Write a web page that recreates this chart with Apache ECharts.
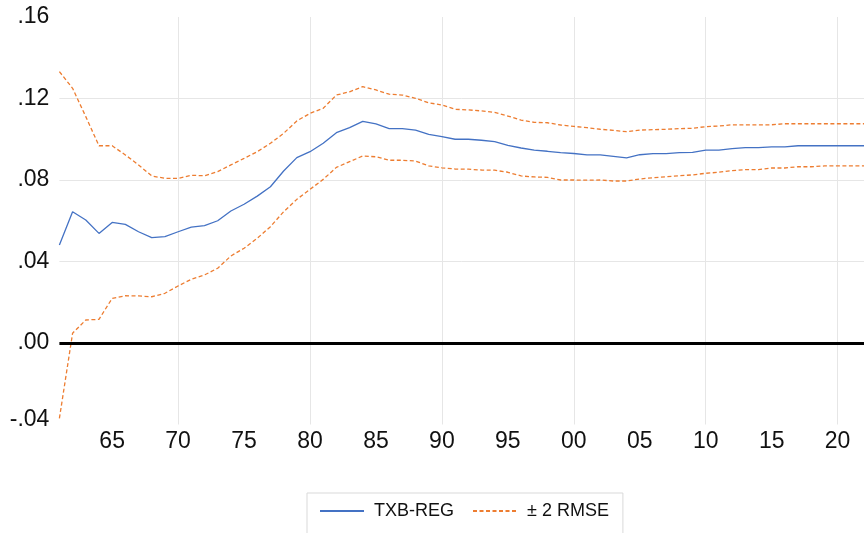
<!DOCTYPE html>
<html>
<head>
<meta charset="utf-8">
<script src="https://cdn.jsdelivr.net/npm/echarts@6/dist/echarts.min.js"></script>
<style>
html,body{margin:0;padding:0;background:#fff;}
#chart{width:864px;height:533px;}
</style>
</head>
<body>
<div id="chart"></div>
<script>
const years = [1961,1962,1963,1964,1965,1966,1967,1968,1969,1970,
1971,1972,1973,1974,1975,1976,1977,1978,1979,1980,
1981,1982,1983,1984,1985,1986,1987,1988,1989,1990,
1991,1992,1993,1994,1995,1996,1997,1998,1999,2000,
2001,2002,2003,2004,2005,2006,2007,2008,2009,2010,
2011,2012,2013,2014,2015,2016,2017,2018,2019,2020,2021,2022];

const txbReg = [0.0481,0.0644,0.0604,0.0538,0.0592,0.0582,0.0546,0.0517,0.0522,0.0546,
0.0569,0.0576,0.0600,0.0648,0.0681,0.0721,0.0767,0.0844,0.0910,0.0939,
0.0980,0.1032,0.1057,0.1088,0.1075,0.1052,0.1052,0.1045,0.1024,0.1013,
0.1000,0.1000,0.0995,0.0988,0.0970,0.0957,0.0947,0.0941,0.0934,0.0930,
0.0923,0.0923,0.0916,0.0909,0.0924,0.0929,0.0929,0.0934,0.0936,0.0947,
0.0947,0.0954,0.0959,0.0959,0.0963,0.0963,0.0968,0.0968,0.0968,0.0968,0.0968,0.0968];

const upperBand = [0.1332,0.1250,0.1111,0.0968,0.0968,0.0923,0.0874,0.0820,0.0808,0.0808,
0.0823,0.0821,0.0841,0.0874,0.0906,0.0939,0.0980,0.1029,0.1090,0.1127,
0.1152,0.1217,0.1233,0.1258,0.1242,0.1221,0.1217,0.1201,0.1179,0.1168,
0.1147,0.1144,0.1139,0.1132,0.1114,0.1094,0.1083,0.1081,0.1070,0.1063,
0.1057,0.1049,0.1044,0.1037,0.1045,0.1047,0.1049,0.1052,0.1054,0.1062,
0.1065,0.1071,0.1071,0.1071,0.1071,0.1076,0.1076,0.1076,0.1076,0.1076,0.1076,0.1076];

const lowerBand = [-0.0370,0.0048,0.0113,0.0116,0.0219,0.0232,0.0231,0.0227,0.0244,0.0280,
0.0313,0.0334,0.0367,0.0427,0.0465,0.0514,0.0571,0.0644,0.0705,0.0754,
0.0803,0.0862,0.0890,0.0918,0.0914,0.0897,0.0897,0.0893,0.0869,0.0860,
0.0854,0.0853,0.0849,0.0848,0.0838,0.0820,0.0815,0.0813,0.0800,0.0800,
0.0799,0.0800,0.0795,0.0795,0.0805,0.0811,0.0816,0.0821,0.0825,0.0833,
0.0838,0.0846,0.0851,0.0851,0.0859,0.0859,0.0865,0.0865,0.0869,0.0869,0.0869,0.0869];

const yMin = -0.04, yMax = 0.16, yStep = 0.04;
const seriesNames = ['TXB-REG', '± 2 RMSE'];

const FONT = 'Liberation Sans';
const chart = echarts.init(document.getElementById('chart'), null, {renderer: 'canvas'});
const yearLabels = years.map(String);

function fmtY(v) {
  let s = Math.abs(v).toFixed(2).replace(/^0/, '');
  if (v < -1e-9) return '{low|-' + s + '}';
  return s;
}

chart.setOption({
  animation: false,
  backgroundColor: '#ffffff',
  grid: {left: 59.4, right: -6.3, top: 17, bottom: 108.5, containLabel: false},
  legend: {
    data: seriesNames,
    left: 307,
    top: 493,
    orient: 'horizontal',
    itemWidth: 44,
    itemHeight: 10,
    itemGap: 18,
    padding: [9, 14, 30, 12],
    borderColor: '#d9d9d9',
    borderWidth: 1,
    itemStyle: {opacity: 0},
    textStyle: {fontFamily: FONT, fontSize: 18, color: '#111', padding: [0, 0, 0, 5]}
  },
  xAxis: {
    type: 'category',
    data: yearLabels,
    boundaryGap: false,
    axisLine: {show: false},
    axisTick: {show: false},
    axisLabel: {
      interval: function (i, v) { return Number(v) % 5 === 0; },
      formatter: function (v) { return v.slice(2); },
      fontFamily: FONT, fontSize: 23, color: '#111', margin: 6
    },
    splitLine: {
      show: true,
      interval: function (i, v) { return Number(v) % 10 === 0; },
      lineStyle: {color: '#e6e6e6', width: 1}
    }
  },
  yAxis: {
    type: 'value',
    min: yMin, max: yMax, interval: yStep,
    axisLine: {show: false},
    axisTick: {show: false},
    axisLabel: {
      formatter: fmtY, fontFamily: FONT, fontSize: 23, color: '#111', margin: 10,
      rich: {low: {fontFamily: FONT, fontSize: 23, color: '#111', padding: [0, 0, 10, 0]}}
    },
    splitLine: {
      show: true,
      lineStyle: {color: ['transparent', 'transparent', '#e6e6e6', '#e6e6e6', '#e6e6e6', 'transparent'], width: 1}
    }
  },
  series: [
    {
      name: seriesNames[0], type: 'line', data: txbReg, symbol: 'none', z: 4,
      lineStyle: {color: '#4472c4', width: 1.3},
      itemStyle: {color: '#4472c4'},
      markLine: {
        silent: true, symbol: 'none', animation: false,
        label: {show: false},
        lineStyle: {color: '#000', width: 3, type: 'solid'},
        data: [{yAxis: 0}]
      }
    },
    {
      name: seriesNames[1], type: 'line', data: upperBand, symbol: 'none', z: 3,
      lineStyle: {color: '#ed7d31', width: 1.3, type: [4, 2.5]},
      itemStyle: {color: '#ed7d31'}
    },
    {
      name: seriesNames[1], type: 'line', data: lowerBand, symbol: 'none', z: 3,
      lineStyle: {color: '#ed7d31', width: 1.3, type: [4, 2.5]},
      itemStyle: {color: '#ed7d31'}
    }
  ]
});
</script>
</body>
</html>
